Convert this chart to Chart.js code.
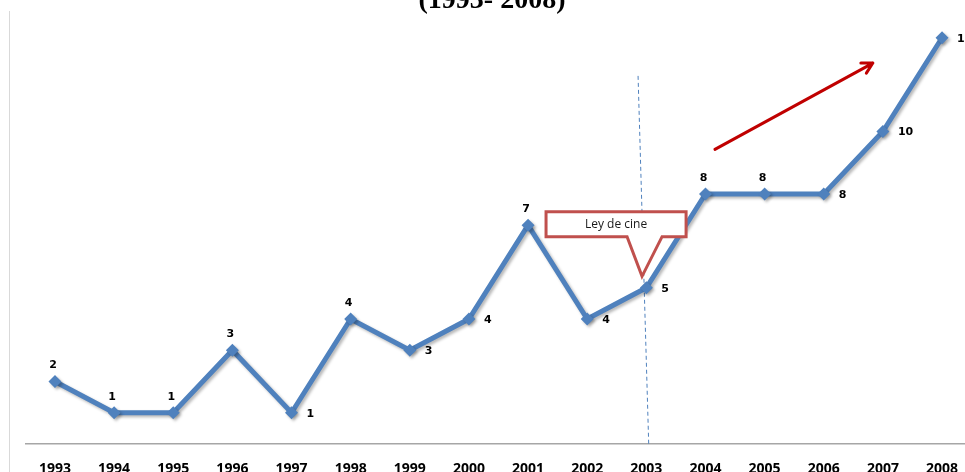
<!DOCTYPE html>
<html>
<head>
<meta charset="utf-8">
<script src="https://cdn.jsdelivr.net/npm/chart.js@4"></script>
<style>
  html, body { margin: 0; padding: 0; background: #fff; overflow: hidden; width: 965px; height: 472px; }
  #wrap { position: absolute; left: 0; top: 0; width: 980px; height: 480px; }
</style>
</head>
<body>
<div id="wrap"><canvas id="c" width="980" height="480"></canvas></div>
<script>
// ---- data ----
const years = ['1993','1994','1995','1996','1997','1998','1999','2000','2001','2002','2003','2004','2005','2006','2007','2008'];
const values = [2, 1, 1, 3, 1, 4, 3, 4, 7, 4, 5, 8, 8, 8, 10, 13];
const titleText = '(1993- 2008)';
const calloutText = 'Ley de cine';

const labelPlacement = ['top','top','top','top','right','top','right','right','top','right','right','top','top','right','right','right'];

const annotations = {
  id: 'annotations',
  beforeDraw(chart) {
    const ctx = chart.ctx;
    ctx.save();
    // left frame line
    ctx.strokeStyle = '#d9d9d9';
    ctx.lineWidth = 1;
    ctx.beginPath();
    ctx.moveTo(9.5, 11);
    ctx.lineTo(9.5, 480);
    ctx.stroke();
    // title (clipped at top)
    ctx.fillStyle = '#000';
    ctx.font = 'bold 28px "Liberation Serif", "Times New Roman", serif';
    ctx.textAlign = 'center';
    ctx.textBaseline = 'alphabetic';
    ctx.fillText(titleText, 492, 8);
    ctx.restore();
  },
  beforeDatasetsDraw(chart) {
    const ctx = chart.ctx, xs = chart.scales.x, ys = chart.scales.y;
    ctx.save();
    // dashed vertical line
    ctx.strokeStyle = '#4F81BD';
    ctx.lineWidth = 1;
    ctx.setLineDash([4, 3]);
    ctx.beginPath();
    ctx.moveTo(xs.getPixelForValue(9.86), ys.getPixelForValue(11.78));
    ctx.lineTo(xs.getPixelForValue(10.04), ys.getPixelForValue(0));
    ctx.stroke();
    ctx.restore();
  },
  afterDatasetsDraw(chart) {
    const ctx = chart.ctx, xs = chart.scales.x, ys = chart.scales.y;
    const X = v => xs.getPixelForValue(v), Y = v => ys.getPixelForValue(v);
    ctx.save();
    // data labels
    const meta = chart.getDatasetMeta(0);
    ctx.fillStyle = '#000';
    ctx.font = 'bold 11px "DejaVu Sans", Verdana, sans-serif';
    meta.data.forEach((pt, i) => {
      const txt = String(values[i]);
      if (labelPlacement[i] === 'top') {
        ctx.textAlign = 'center';
        ctx.textBaseline = 'middle';
        ctx.fillText(txt, pt.x - 2, pt.y - 16);
      } else {
        ctx.textAlign = 'left';
        ctx.textBaseline = 'middle';
        ctx.fillText(txt, pt.x + 15, pt.y + 1);
      }
    });
    // callout
    ctx.beginPath();
    ctx.moveTo(X(8.304), Y(7.43));
    ctx.lineTo(X(10.672), Y(7.43));
    ctx.lineTo(X(10.672), Y(6.635));
    ctx.lineTo(X(10.266), Y(6.635));
    ctx.lineTo(X(9.927), Y(5.365));
    ctx.lineTo(X(9.674), Y(6.635));
    ctx.lineTo(X(8.304), Y(6.635));
    ctx.closePath();
    ctx.fillStyle = '#fff';
    ctx.fill();
    ctx.strokeStyle = '#C0504D';
    ctx.lineWidth = 3;
    ctx.lineJoin = 'miter';
    ctx.stroke();
    ctx.fillStyle = '#1a1a1a';
    ctx.font = '12px "Open Sans", Calibri, sans-serif';
    ctx.textAlign = 'center';
    ctx.textBaseline = 'middle';
    ctx.fillText(calloutText, (X(8.304) + X(10.672)) / 2, (Y(7.43) + Y(6.635)) / 2);
    // red arrow
    const x1 = X(11.16), y1 = Y(9.43), x2 = X(13.83), y2 = Y(12.19);
    ctx.strokeStyle = '#C00000';
    ctx.lineWidth = 3;
    ctx.lineCap = 'round';
    ctx.lineJoin = 'round';
    ctx.beginPath();
    ctx.moveTo(x1, y1);
    ctx.lineTo(x2, y2);
    const a = Math.atan2(y2 - y1, x2 - x1), L = 12, w = 0.5;
    ctx.moveTo(x2 - L * Math.cos(a - w), y2 - L * Math.sin(a - w));
    ctx.lineTo(x2, y2);
    ctx.lineTo(x2 - L * Math.cos(a + w), y2 - L * Math.sin(a + w));
    ctx.stroke();
    ctx.restore();
  }
};

const shadow = {
  id: 'shadow',
  beforeDatasetDraw(chart) {
    const ctx = chart.ctx;
    ctx.save();
    ctx.shadowColor = 'rgba(0,0,0,0.28)';
    ctx.shadowBlur = 3;
    ctx.shadowOffsetX = 2;
    ctx.shadowOffsetY = 2;
  },
  afterDatasetDraw(chart) {
    chart.ctx.restore();
  }
};

new Chart(document.getElementById('c'), {
  type: 'line',
  data: {
    datasets: [{
      data: values.map((v, i) => ({ x: i, y: v })),
      borderColor: '#4F81BD',
      borderWidth: 5,
      tension: 0,
      pointStyle: 'rectRot',
      pointRadius: 6.5,
      pointBackgroundColor: '#4F81BD',
      pointBorderColor: '#4F81BD',
      pointBorderWidth: 0
    }]
  },
  options: {
    responsive: false,
    animation: false,
    devicePixelRatio: 1,
    layout: { padding: { left: 25.4, right: 8.4, top: 3, bottom: 6 } },
    plugins: { legend: { display: false }, tooltip: { enabled: false }, title: { display: false } },
    scales: {
      x: {
        type: 'linear',
        min: -0.5,
        max: 15.5,
        grid: { display: false, drawTicks: false },
        border: { display: true, color: '#a6a6a6', width: 1.5 },
        afterFit(scale) { scale.height = 30; },
        afterBuildTicks(scale) {
          scale.ticks = years.map((_, i) => ({ value: i }));
        },
        ticks: {
          autoSkip: false,
          maxRotation: 0,
          padding: 17,
          color: '#000',
          font: { family: '"Open Sans", Calibri, sans-serif', size: 14, weight: 'bold' },
          callback: (v) => years[v] !== undefined ? years[v] : ''
        }
      },
      y: { display: false, min: 0, max: 14 }
    }
  },
  plugins: [annotations, shadow]
});
</script>
</body>
</html>
